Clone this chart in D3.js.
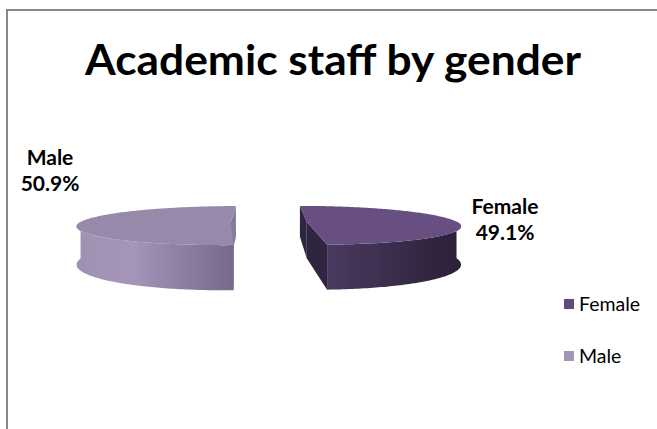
<!DOCTYPE html>
<html>
<head>
<meta charset="utf-8">
<script src="https://cdn.jsdelivr.net/npm/d3@7/dist/d3.min.js"></script>
<style>
  html, body { margin: 0; padding: 0; background: #ffffff; }
  svg { display: block; }
</style>
</head>
<body>
<svg id="chart" width="657" height="429"></svg>
<script>
// Academic staff split by gender (percent of total)
const categories = ["Female", "Male"];
const shares = [49.1, 50.9];
const valueLabels = ["49.1%", "50.9%"];
const chartTitle = "Academic staff by gender";

// Shading per slice: top face, wall gradient (light -> dark), cut faces, legend swatch
const topColors = ["#674f82", "#9789aa"];
const wallLight = ["#4a3a60", "#a595b8"];
const wallDark = ["#2a2036", "#76698a"];
const cutColors = ["#2f2540", "#877a9b"];
const swatchColors = ["#604a7b", "#a396b8"];

const W = 657, H = 429;
const svg = d3.select("#chart");
const defs = svg.append("defs");

// chart frame (runs off the right and bottom edges)
svg.append("rect")
  .attr("x", 7).attr("y", 10)
  .attr("width", 700).attr("height", 500)
  .attr("fill", "#ffffff")
  .attr("stroke", "#878787").attr("stroke-width", 2);

// title, fitted to its width
const title = svg.append("text")
  .attr("x", 333).attr("y", 75)
  .attr("text-anchor", "middle")
  .attr("font-family", "Lato, 'Open Sans', sans-serif")
  .attr("font-weight", 700)
  .attr("font-size", 42)
  .attr("fill", "#000")
  .text(chartTitle);
const tw = title.node().getComputedTextLength();
if (Math.abs(tw - 496) > 3) title.attr("textLength", 496).attr("lengthAdjust", "spacingAndGlyphs");

// ---- 3D pie geometry ----
const R = 150;          // radius in world units
const flat = 0.1253;    // vertical squash of the disc
const depth = 36.6;     // wall height
const persp = 0.1875;   // perspective strength
const cx0 = 263.5, cy0 = 221.8;  // eye point on screen
const pieCenterX = 5.3;          // pie centre relative to eye
const explode = 38;

function proj(X, Z, Hd) {
  const k = 1 / (1 + persp * Z / R);
  return [cx0 + X * k, cy0 + (-Z * flat + Hd) * k];
}

const pie = d3.pie().sort(null).startAngle(0).endAngle(2 * Math.PI);
const arcs = pie(shares);

const deg = Math.PI / 180;
function rimPts(ox, oz, a0, a1, Hd) {
  const n = Math.max(2, Math.ceil(Math.abs(a1 - a0) / (1 * deg)));
  return d3.range(n + 1).map(i => {
    const a = a0 + (a1 - a0) * i / n;
    return proj(ox + R * Math.sin(a), oz + R * Math.cos(a), Hd);
  });
}
const line = d3.line();

const pieG = svg.append("g");

arcs.forEach((d, i) => {
  const mid = (d.startAngle + d.endAngle) / 2;
  const ox = pieCenterX + explode * Math.sin(mid);
  const oz = explode * Math.cos(mid);
  const g = pieG.append("g");

  // radial cut faces, farther one first
  const faces = [d.startAngle, d.endAngle].map(a => ({
    a, z: oz + R * Math.cos(a)
  })).sort((p, q) => q.z - p.z);
  faces.forEach(f => {
    const pts = [
      proj(ox, oz, 0),
      proj(ox + R * Math.sin(f.a), oz + R * Math.cos(f.a), 0),
      proj(ox + R * Math.sin(f.a), oz + R * Math.cos(f.a), depth),
      proj(ox, oz, depth)
    ];
    g.append("path").attr("d", line(pts) + "Z").attr("fill", cutColors[i]);
  });

  // outer wall: front half of the rim only
  const w0 = Math.max(d.startAngle, 90 * deg);
  const w1 = Math.min(d.endAngle, 270 * deg);
  if (w1 > w0) {
    const topRim = rimPts(ox, oz, w0, w1, 0);
    const botRim = rimPts(ox, oz, w1, w0, depth);
    const xs = topRim.map(p => p[0]);
    const gid = "wall" + i;
    const grad = defs.append("linearGradient").attr("id", gid)
      .attr("gradientUnits", "userSpaceOnUse")
      .attr("x1", d3.min(xs)).attr("x2", d3.max(xs))
      .attr("y1", 0).attr("y2", 0);
    if (i === 0) {
      grad.append("stop").attr("offset", 0).attr("stop-color", wallLight[i]);
      grad.append("stop").attr("offset", 1).attr("stop-color", wallDark[i]);
    } else {
      grad.append("stop").attr("offset", 0).attr("stop-color", "#a090b2");
      grad.append("stop").attr("offset", 0.35).attr("stop-color", wallLight[i]);
      grad.append("stop").attr("offset", 1).attr("stop-color", wallDark[i]);
    }
    g.append("path").attr("d", line(topRim.concat(botRim)) + "Z")
      .attr("fill", `url(#${gid})`);
  }

  // top face
  const topPts = [proj(ox, oz, 0)].concat(rimPts(ox, oz, d.startAngle, d.endAngle, 0));
  g.append("path").attr("d", line(topPts) + "Z").attr("fill", topColors[i]);
});

// ---- data labels ----
const labelFont = "Lato, 'Open Sans', sans-serif";
const labelPos = [
  { x: 505, y1: 214, y2: 240 },
  { x: 50, y1: 165, y2: 191 }
];
categories.forEach((c, i) => {
  const t = svg.append("text")
    .attr("text-anchor", "middle")
    .attr("font-family", labelFont)
    .attr("font-weight", 700)
    .attr("font-size", 21)
    .attr("fill", "#000");
  t.append("tspan").attr("x", labelPos[i].x).attr("y", labelPos[i].y1).text(c);
  t.append("tspan").attr("x", labelPos[i].x).attr("y", labelPos[i].y2).text(valueLabels[i]);
});

// ---- legend ----
const legendY = d3.scalePoint().domain(categories).range([304, 356]);
const legend = svg.append("g");
categories.forEach((c, i) => {
  const y = legendY(c);
  legend.append("rect")
    .attr("x", 564).attr("y", y - 5)
    .attr("width", 10).attr("height", 10)
    .attr("fill", swatchColors[i]);
  legend.append("text")
    .attr("x", 579).attr("y", y + 7)
    .attr("font-family", labelFont)
    .attr("font-size", 19.5)
    .attr("fill", "#000")
    .text(c);
});
</script>
</body>
</html>
